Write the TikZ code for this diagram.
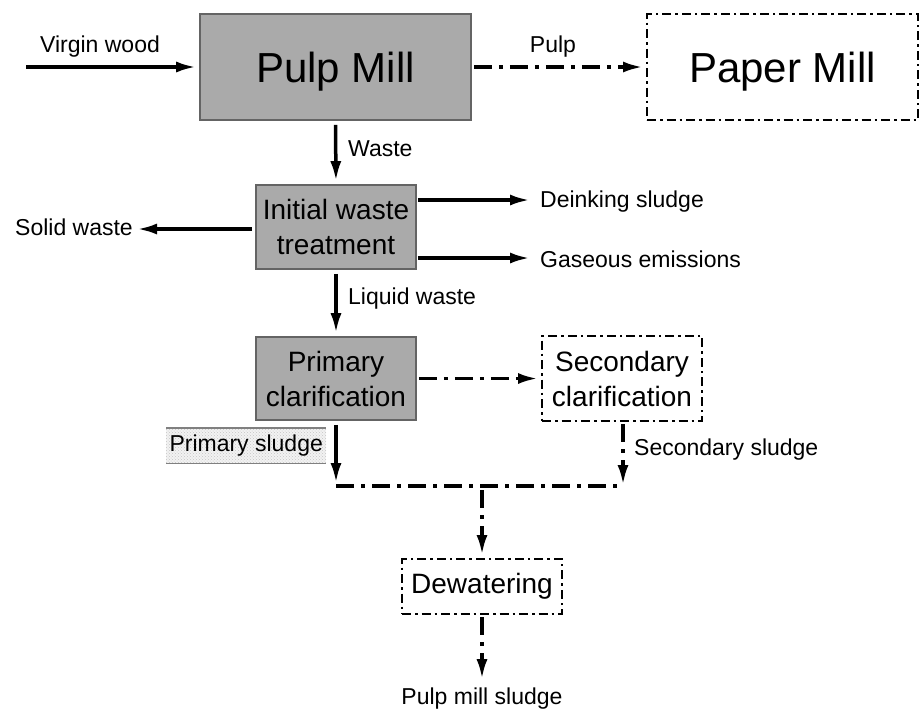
\documentclass[tikz,border=0pt]{standalone}
\usepackage{fontspec}
\setmainfont{Liberation Sans}
\usetikzlibrary{arrows.meta,patterns}
\definecolor{boxgray}{RGB}{170,170,170}
\definecolor{edgegray}{RGB}{100,100,100}
\begin{document}
\begin{tikzpicture}[x=1pt,y=-1pt,
  bigfont/.style={font=\fontsize{42}{50}\selectfont},
  boxfont/.style={font=\fontsize{28}{35}\selectfont},
  lblfont/.style={font=\fontsize{23}{28}\selectfont},
  graybox/.style={draw=edgegray,line width=1.6pt,fill=boxgray,boxfont,align=center,inner sep=0pt},
  openbox/.style={draw=black,line width=2pt,dash pattern=on 9pt off 4pt on 2.5pt off 4pt,boxfont,align=center,inner sep=0pt},
  lbl/.style={lblfont,inner sep=0pt},
  arr/.style={line width=3.5pt,-{Latex[length=20pt,width=11pt]},shorten >=3pt},
  dotarr/.style={arr,dash pattern=on 18pt off 7pt on 4pt off 7pt},
  dotline/.style={line width=3.5pt,dash pattern=on 18pt off 7pt on 4pt off 7pt},
]
\useasboundingbox (0,0) rectangle (920,710);

% boxes
\node[graybox,bigfont,text depth=0pt,minimum width=271pt,minimum height=106pt] (pulp) at (335.5,67) {Pulp Mill};
\node[openbox,bigfont,text depth=0pt,minimum width=271pt,minimum height=106pt] (paper) at (782.5,67) {Paper Mill};
\node[graybox,minimum width=160pt,minimum height=84pt] (iwt) at (336,227) {Initial waste\\treatment};
\node[graybox,minimum width=160pt,minimum height=83pt] (pc) at (336,378.5) {Primary\\clarification};
\node[openbox,minimum width=160pt,minimum height=85pt] (sc) at (622,378.5) {Secondary\\clarification};
\node[openbox,minimum width=160pt,minimum height=55pt] (dw) at (482,586.5) {Dewatering};

% labels
\node[lbl,anchor=base] (vwl) at (100,52) {Virgin wood};
\node[lbl,anchor=base] (pulpl) at (553,52) {Pulp};
\node[lbl,anchor=base west] (wastel) at (348,156) {Waste};
\node[lbl,anchor=base east] (solid) at (133,235) {Solid waste};
\node[lbl,anchor=base west] (dk) at (540,207) {Deinking sludge};
\node[lbl,anchor=base west] (gas) at (540,267) {Gaseous emissions};
\node[lbl,anchor=base west] (liq) at (348,304) {Liquid waste};
\node[lbl,anchor=base west] (ssl) at (634,455) {Secondary sludge};
\node[lbl,anchor=base] (pms) at (482,704) {Pulp mill sludge};
\node[lbl,minimum width=160pt,minimum height=35pt,anchor=north west,
      preaction={fill=gray!10},pattern=crosshatch dots,pattern color=gray!45] (psl) at (166,428) {Primary sludge};
\draw[gray,line width=1.2pt] (psl.north west) -- (psl.north east);
\draw[gray,line width=1.2pt] (psl.south west) -- (psl.south east);

% coordinates
\coordinate (vw) at (26,67);
\coordinate (dkA) at (530,200);
\coordinate (gasA) at (530,258);
\coordinate (j1) at (336,486);
\coordinate (j2) at (623,486);
\coordinate (jm) at (482,486);

% connectors
\draw[arr] (vw) -- (pulp.west);
\draw[dotarr] ([xshift=2pt]pulp.east) -- (paper.west);
\draw[arr] ([yshift=-4pt]pulp.south) -- (iwt.north);
\draw[arr,shorten >=0pt] ([xshift=-3pt]iwt.west |- 0,229) -- ([xshift=4pt]solid.east |- 0,229);
\draw[arr,shorten >=0pt] ([xshift=1pt]iwt.east |- dkA) -- (dkA);
\draw[arr,shorten >=0pt] ([xshift=1pt]iwt.east |- gasA) -- (gasA);
\draw[arr] ([yshift=-4pt]iwt.south) -- (pc.north);
\draw[dotarr] ([xshift=2pt]pc.east) -- (sc.west);
\draw[arr,shorten >=0pt] ([yshift=-4pt]pc.south) -- ([yshift=3pt]j1);
\draw[dotarr,shorten >=0pt] ([yshift=-2pt]sc.south -| j2) -- ([yshift=1pt]j2);
\draw[dotline] (j1) -- (j2);
\draw[dotarr] ([yshift=-4pt]jm) -- (dw.north);
\draw[dotarr,shorten >=0pt] ([yshift=-2pt]dw.south) -- ([yshift=8pt]pms.north);
\end{tikzpicture}
\end{document}
